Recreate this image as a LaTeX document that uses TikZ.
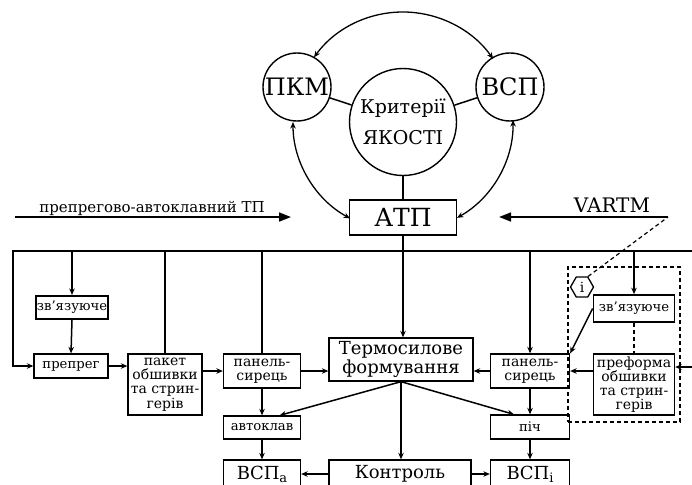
\documentclass[tikz,border=0pt]{standalone}
\usepackage{fontspec}
\setmainfont{DejaVu Serif}
\usetikzlibrary{arrows.meta,shapes.geometric,calc}
\begin{document}
\begin{tikzpicture}[x=1pt,y=-1pt,
  ln/.style={line width=1.5pt},
  arr/.style={ln,-{Stealth[length=6.5pt,width=5.5pt]}},
  darr/.style={line width=1.3pt,{Stealth[length=6.5pt,width=5.5pt]}-{Stealth[length=6.5pt,width=5.5pt]}},
  bigarr/.style={line width=1.7pt,-{Triangle[length=12pt,width=9pt]}},
  dsh/.style={line width=1.2pt,dash pattern=on 4pt off 3pt},
  bx/.style={draw,line width=1.3pt,inner sep=0pt,align=center},
  circ/.style={draw,circle,line width=1.4pt,inner sep=0pt,align=center},
  fsm/.style={font=\fontsize{13.2}{15}\selectfont},
  fsb/.style={font=\fontsize{14}{14.2}\selectfont},
  fmd/.style={font=\fontsize{18}{18.5}\selectfont},
  fbg/.style={font=\fontsize{24}{26}\selectfont}
]
\useasboundingbox (0,0) rectangle (692,484);
\clip (0,0) rectangle (692,484);

% --- top: criteria ---
\coordinate (c) at (403,122);
\node[circ,fbg,minimum size=68pt] (pkm) at (297,87) {ПКМ};
\node[circ,fbg,minimum size=68pt] (vsp) at (510,87) {ВСП};
\node[circ,minimum size=107pt,font=\fontsize{19}{31}\selectfont] (krit) at (403,122) {Критерії\\ЯКОСТІ};
\node[bx,font=\fontsize{25}{26}\selectfont,minimum width=107pt,minimum height=35pt] (atp) at (403,217.5) {АТП};

\draw[ln] (pkm) -- (krit);
\draw[ln] (vsp) -- (krit);
\draw[ln] (krit) -- (atp);

\coordinate (t1) at ($(c)+(-144:110)$);
\coordinate (l1) at ($(c)+(-180:110)$);
\coordinate (r1) at ($(c)+(-1:110)$);
\draw[darr] (t1) arc[start angle=-144,end angle=-35,radius=110];
\draw[darr] (l1) arc[start angle=-180,end angle=-241.2,radius=110];
\draw[darr] (r1) arc[start angle=-1,end angle=60.6,radius=110];

% --- process arrows ---
\coordinate (pS) at (15,217);
\coordinate (pE) at (291,217);
\draw[bigarr] (pS) -- (pE);
\node[font=\fontsize{15}{16}\selectfont,anchor=base] (ptxt) at (152,212) {препрегово-автоклавний ТП};
\coordinate (vS) at (668,217);
\coordinate (vE) at (499,217);
\draw[bigarr] (vS) -- (vE);
\node[font=\fontsize{20}{21}\selectfont,anchor=base] (vtxt) at (612,212) {VARTM};

% --- boxes ---
\node[bx,fsm,line width=2pt,minimum width=72pt,minimum height=23pt] (zv1) at (72,307.5) {зв’язуюче};
\node[bx,fsm,minimum width=74pt,minimum height=24pt] (prep) at (71,366) {препрег};
\node[bx,fsb,minimum width=74pt,minimum height=61pt] (pak) at (165,384.5) {пакет\\обшивки\\та стрин-\\герів};
\node[bx,fsb,minimum width=77pt,minimum height=34pt] (pan1) at (262,371) {панель-\\сирець};
\node[bx,fsm,minimum width=77pt,minimum height=23pt] (avt) at (262,427.5) {автоклав};
\node[bx,fmd,minimum width=77pt,minimum height=28pt] (vspa) at (262,474) {ВСП\raisebox{-3pt}{\fontsize{13}{13}\selectfont a}};
\node[bx,fmd,minimum width=144pt,minimum height=43pt] (term) at (401,359.5) {Термосилове\\формування};
\node[bx,fmd,minimum width=142pt,minimum height=28pt] (kon) at (400,474) {Контроль};
\node[bx,fsb,minimum width=79pt,minimum height=34pt] (pan2) at (530,371) {панель-\\сирець};
\node[bx,fsm,minimum width=79pt,minimum height=24pt] (pich) at (530,427) {піч};
\node[bx,fmd,minimum width=79pt,minimum height=28pt] (vspi) at (530,474) {ВСП\raisebox{-3pt}{\fontsize{13}{13}\selectfont i}};
\node[bx,fsm,line width=1.7pt,minimum width=81pt,minimum height=27pt] (zv2) at (634,308.5) {зв’язуюче};
\node[bx,fsb,minimum width=81pt,minimum height=61pt] (pref) at (634,384.5) {преформа\\обшивки\\та стрин-\\герів};
\node[draw,dsh,minimum width=112pt,minimum height=155pt,inner sep=0pt] (grp) at (624,344.5) {};
\node[draw,regular polygon,regular polygon sides=6,minimum size=23pt,inner sep=0pt,line width=1.3pt,font=\fontsize{14}{14}\selectfont] (hex) at (582,287) {i};

% --- bus ---
\coordinate (busL) at (13,251);
\coordinate (busR) at (700,251);
\draw[arr] (busR) -- (busL) |- (prep.west);
\draw[arr] (zv1 |- busL) -- (zv1.north);
\draw[ln] (pak |- busL) -- (pak.north);
\draw[ln] (pan1 |- busL) -- (pan1.north);
\draw[ln] (atp.south) -- (atp.south |- busL);
\draw[arr] (atp.south |- busL) -- (atp.south |- term.north);
\draw[arr] (pan2 |- busL) -- (pan2.north);
\draw[arr] (zv2 |- busL) -- (zv2.north);

% --- flow ---
\draw[arr] (zv1.south) -- (prep.north);
\draw[arr] (prep.east) -- (prep.east -| pak.west);
\draw[arr] (pan1.west -| pak.east) -- (pan1.west);
\draw[arr] (pan1.east) -- (pan1.east -| term.west);
\draw[arr] (pan2.west) -- (pan2.west -| term.east);
\draw[arr] (pan2.east -| pref.west) -- (pan2.east);
\coordinate (inR) at (700,367);
\draw[arr] (inR) -- (inR -| pref.east);
\draw[arr] (zv2.west) -- (pan2.north east);
\draw[dsh] (zv2.south) -- (pref.north);
\draw[dsh] (hex.corner 1) -- (vS);

\draw[arr] (pan1.south) -- (avt.north);
\draw[arr] (avt.south) -- (vspa.north);
\draw[arr] (pan2.south) -- (pich.north);
\draw[arr] (pich.south) -- (vspi.north);
\coordinate (fan) at (term.south);
\draw[arr] (fan) -- ($(avt.north)!0.45!(avt.north east)$);
\draw[arr] (fan) -- ($(pich.north)!0.4!(pich.north west)$);
\draw[arr] (fan) -- (fan |- kon.north);
\draw[arr] (kon.west) -- (vspa.east);
\draw[arr] (kon.east) -- (vspi.west);
\end{tikzpicture}
\end{document}
